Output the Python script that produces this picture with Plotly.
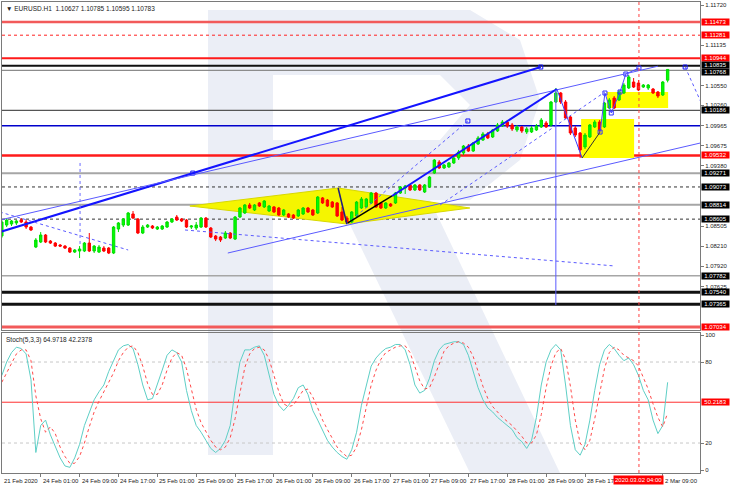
import plotly.graph_objects as go

# ---------------- data (EURUSD H1, 21 Feb 2020 17:00 -> 2 Mar 2020 10:00) ----------------
open_ = [
    1.08359, 1.08519, 1.08534, 1.08549, 1.08592, 1.08563, 1.08490, 1.08199, 1.08272, 1.08374,
    1.08286, 1.08257, 1.08228, 1.08213, 1.08184, 1.08126, 1.08141, 1.08141, 1.08257, 1.08141,
    1.08126, 1.08184, 1.08184, 1.08112, 1.08461, 1.08519, 1.08519, 1.08680, 1.08607, 1.08403,
    1.08490, 1.08505, 1.08461, 1.08461, 1.08490, 1.08563, 1.08636, 1.08607, 1.08592, 1.08490,
    1.08476, 1.08490, 1.08621, 1.08476, 1.08359, 1.08345, 1.08330, 1.08403, 1.08315, 1.08636,
    1.08694, 1.08811, 1.08738, 1.08840, 1.08782, 1.08723, 1.08782, 1.08767, 1.08665, 1.08680,
    1.08665, 1.08651, 1.08680, 1.08767, 1.08738, 1.08694, 1.08913, 1.08883, 1.08854, 1.08840,
    1.08709, 1.08621, 1.08563, 1.08651, 1.08767, 1.08782, 1.08840, 1.08985, 1.08840, 1.08767,
    1.08825, 1.08840, 1.08985, 1.09058, 1.09102, 1.09029, 1.09102, 1.09000, 1.09073, 1.09276,
    1.09436, 1.09349, 1.09364, 1.09422, 1.09495, 1.09567, 1.09669, 1.09596, 1.09698, 1.09756,
    1.09844, 1.09800, 1.09887, 1.09960, 1.10018, 1.09975, 1.09902, 1.09946, 1.09873, 1.09873,
    1.09902, 1.09946, 1.10004, 1.09975, 1.10309, 1.10440, 1.10309, 1.10091, 1.09931, 1.09858,
    1.09655, 1.09800, 1.09946, 1.10018, 1.09946, 1.10222, 1.10367, 1.10338, 1.10440, 1.10513,
    1.10600, 1.10585, 1.10527, 1.10513, 1.10498, 1.10455, 1.10411, 1.10627]
high = [
    1.08607, 1.08621, 1.08592, 1.08592, 1.08621, 1.08592, 1.08505, 1.08330, 1.08417, 1.08388,
    1.08301, 1.08272, 1.08243, 1.08228, 1.08199, 1.08170, 1.08213, 1.08272, 1.08403, 1.08228,
    1.08228, 1.08213, 1.08199, 1.08505, 1.08563, 1.08621, 1.08709, 1.08723, 1.08621, 1.08519,
    1.08534, 1.08519, 1.08505, 1.08519, 1.08578, 1.08621, 1.08665, 1.08621, 1.08607, 1.08519,
    1.08563, 1.08636, 1.08636, 1.08490, 1.08374, 1.08359, 1.08432, 1.08417, 1.08651, 1.08782,
    1.08825, 1.08840, 1.08825, 1.08854, 1.08883, 1.08811, 1.08796, 1.08782, 1.08753, 1.08694,
    1.08680, 1.08753, 1.08782, 1.08782, 1.08753, 1.08942, 1.08927, 1.08898, 1.08869, 1.08854,
    1.08782, 1.08651, 1.08723, 1.08869, 1.08927, 1.08913, 1.09000, 1.09000, 1.08854, 1.08854,
    1.08840, 1.09000, 1.09087, 1.09102, 1.09116, 1.09116, 1.09116, 1.09116, 1.09233, 1.09480,
    1.09465, 1.09407, 1.09436, 1.09509, 1.09611, 1.09684, 1.09698, 1.09727, 1.09815, 1.09873,
    1.09873, 1.09917, 1.10004, 1.10047, 1.10047, 1.10004, 1.09975, 1.09960, 1.09946, 1.09960,
    1.09989, 1.10076, 1.10033, 1.10324, 1.10513, 1.10455, 1.10338, 1.10105, 1.09960, 1.09873,
    1.09858, 1.09989, 1.10047, 1.10047, 1.10309, 1.10367, 1.10396, 1.10484, 1.10585, 1.10702,
    1.10658, 1.10629, 1.10571, 1.10571, 1.10513, 1.10469, 1.10614, 1.10785]
low = [
    1.08330, 1.08490, 1.08505, 1.08519, 1.08549, 1.08461, 1.08432, 1.08184, 1.08257, 1.08257,
    1.08243, 1.08199, 1.08199, 1.08170, 1.08112, 1.08112, 1.08039, 1.08126, 1.08126, 1.08112,
    1.08112, 1.08126, 1.08097, 1.08097, 1.08417, 1.08490, 1.08505, 1.08607, 1.08388, 1.08388,
    1.08476, 1.08461, 1.08447, 1.08447, 1.08476, 1.08549, 1.08578, 1.08563, 1.08476, 1.08461,
    1.08447, 1.08476, 1.08476, 1.08330, 1.08286, 1.08272, 1.08315, 1.08315, 1.08301, 1.08621,
    1.08680, 1.08753, 1.08723, 1.08782, 1.08767, 1.08709, 1.08694, 1.08651, 1.08651, 1.08621,
    1.08607, 1.08636, 1.08665, 1.08694, 1.08651, 1.08680, 1.08825, 1.08782, 1.08767, 1.08636,
    1.08578, 1.08534, 1.08549, 1.08636, 1.08753, 1.08767, 1.08825, 1.08767, 1.08753, 1.08753,
    1.08782, 1.08825, 1.08971, 1.08971, 1.09014, 1.09014, 1.09014, 1.08985, 1.09058, 1.09262,
    1.09335, 1.09335, 1.09349, 1.09407, 1.09465, 1.09538, 1.09582, 1.09582, 1.09684, 1.09742,
    1.09771, 1.09786, 1.09873, 1.09946, 1.09931, 1.09887, 1.09873, 1.09858, 1.09844, 1.09858,
    1.09887, 1.09931, 1.09931, 1.09946, 1.10294, 1.10280, 1.10062, 1.09829, 1.09800, 1.09495,
    1.09625, 1.09786, 1.09931, 1.09873, 1.09931, 1.10207, 1.10207, 1.10324, 1.10425, 1.10498,
    1.10513, 1.10469, 1.10513, 1.10484, 1.10425, 1.10367, 1.10396, 1.10595]
close = [
    1.08563, 1.08592, 1.08578, 1.08578, 1.08563, 1.08490, 1.08447, 1.08301, 1.08374, 1.08272,
    1.08257, 1.08213, 1.08213, 1.08184, 1.08126, 1.08156, 1.08170, 1.08257, 1.08141, 1.08213,
    1.08199, 1.08141, 1.08112, 1.08490, 1.08549, 1.08607, 1.08694, 1.08621, 1.08403, 1.08490,
    1.08519, 1.08476, 1.08490, 1.08505, 1.08563, 1.08607, 1.08592, 1.08578, 1.08490, 1.08505,
    1.08519, 1.08621, 1.08490, 1.08345, 1.08315, 1.08301, 1.08403, 1.08330, 1.08636, 1.08767,
    1.08811, 1.08767, 1.08811, 1.08796, 1.08869, 1.08796, 1.08709, 1.08665, 1.08738, 1.08636,
    1.08621, 1.08738, 1.08767, 1.08709, 1.08665, 1.08927, 1.08840, 1.08796, 1.08782, 1.08651,
    1.08592, 1.08563, 1.08709, 1.08854, 1.08898, 1.08898, 1.08985, 1.08782, 1.08767, 1.08840,
    1.08796, 1.08985, 1.09073, 1.09087, 1.09029, 1.09102, 1.09029, 1.09102, 1.09218, 1.09465,
    1.09349, 1.09393, 1.09422, 1.09495, 1.09582, 1.09669, 1.09596, 1.09713, 1.09786, 1.09844,
    1.09786, 1.09902, 1.09975, 1.10018, 1.09960, 1.09917, 1.09946, 1.09887, 1.09917, 1.09931,
    1.09960, 1.10047, 1.09946, 1.10309, 1.10440, 1.10309, 1.10076, 1.09858, 1.09829, 1.09611,
    1.09829, 1.09975, 1.10018, 1.09902, 1.10294, 1.10338, 1.10222, 1.10455, 1.10556, 1.10673,
    1.10527, 1.10484, 1.10556, 1.10556, 1.10440, 1.10396, 1.10600, 1.10783]

stoch_k = [
    70, 80, 87, 91, 90, 86, 67, 13, 33, 37,
    26, 17, 9, 3, 2, 9, 19, 33, 43, 52,
    58, 63, 73, 81, 89, 92, 93, 90, 78, 63,
    52, 53, 63, 74, 85, 89, 87, 80, 59, 44,
    33, 28, 22, 16, 13, 16, 22, 33, 59, 80,
    89, 89, 91, 92, 85, 70, 56, 48, 44, 48,
    53, 61, 63, 56, 44, 37, 30, 22, 17, 13,
    10, 8, 15, 28, 48, 63, 77, 83, 87, 90,
    91, 93, 93, 89, 78, 63, 57, 59, 68, 81,
    89, 93, 94, 95, 95, 93, 85, 73, 61, 52,
    46, 43, 39, 36, 33, 30, 24, 21, 16, 22,
    39, 63, 80, 89, 93, 89, 63, 33, 15, 11,
    19, 37, 59, 78, 89, 93, 90, 85, 81, 83,
    78, 70, 59, 52, 37, 27, 33, 64.9718]
stoch_d = [
    65, 72, 79, 86, 89, 89, 81, 55, 38, 28,
    32, 27, 17, 10, 5, 5, 10, 20, 32, 43,
    51, 58, 65, 72, 81, 87, 91, 92, 87, 77,
    64, 56, 56, 63, 74, 83, 87, 85, 75, 61,
    45, 35, 28, 22, 17, 15, 17, 24, 38, 57,
    76, 86, 90, 91, 89, 82, 70, 58, 49, 47,
    48, 54, 59, 60, 54, 46, 37, 30, 23, 17,
    13, 10, 11, 17, 30, 46, 63, 74, 82, 87,
    89, 91, 92, 92, 87, 77, 66, 60, 61, 69,
    79, 88, 92, 94, 95, 94, 91, 84, 73, 62,
    53, 47, 43, 39, 36, 33, 29, 25, 20, 20,
    26, 41, 61, 77, 87, 90, 82, 62, 37, 20,
    15, 22, 38, 58, 75, 87, 91, 89, 85, 83,
    81, 77, 69, 60, 49, 39, 32, 42.2378]

x_tick_bars = [0, 8, 16, 24, 32, 40, 48, 56, 64, 72, 80, 88, 96, 104, 112, 120, 136]
x_tick_text = ["21 Feb 2020", "24 Feb 01:00", "24 Feb 09:00", "24 Feb 17:00", "25 Feb 01:00",
               "25 Feb 09:00", "25 Feb 17:00", "26 Feb 01:00", "26 Feb 09:00", "26 Feb 17:00",
               "27 Feb 01:00", "27 Feb 09:00", "27 Feb 17:00", "28 Feb 01:00", "28 Feb 09:00",
               "28 Feb 17:00", "2 Mar 09:00"]
cursor_bar = 131.1
cursor_text = "2020.03.02 04:00"

price_ticks = [1.11720, 1.11135, 1.10550, 1.10260, 1.09965, 1.09675, 1.09380,
               1.08505, 1.08210, 1.07920, 1.07625]

# horizontal levels: price, colour, width, dash, label background (None = no label)
level_price = [1.11473, 1.11281, 1.10944, 1.10835, 1.10768, 1.10186, 1.09965, 1.09532,
               1.09271, 1.09073, 1.08814, 1.08605, 1.07782, 1.07540, 1.07365, 1.07034]
level_color = ['#f25a5a', '#ff2020', '#ff1a1a', '#111111', '#8c8c8c', '#555555', '#0000cc', '#ff1a1a',
               '#a6a6a6', '#333333', '#a6a6a6', '#333333', '#a6a6a6', '#111111', '#111111', '#f25a5a']
level_width = [2.5, 1, 2, 2, 1.2, 1.2, 1.5, 2.5, 2, 1, 2, 1, 1.5, 3, 3, 3]
level_dash = ['solid', 'dot', 'solid', 'solid', 'solid', 'solid', 'solid', 'solid',
              'solid', 'dot', 'solid', 'dot', 'solid', 'solid', 'solid', 'solid']
level_label = ['#ff0000', '#ff0000', '#ff0000', '#000000', '#000000', '#000000', None, '#ff0000',
               '#000000', '#000000', '#000000', '#000000', '#000000', '#000000', '#000000', '#ff0000']
level_label_shift = [0, 0, 0, 1, -2, 0, 0, 0, 0, 0, 0, 0, 0, 0, 0, 0]

stoch_level = 50.2183

# trend objects (bar, price) pairs
trend_lines = [
    # x0, y0, x1, y1, colour, width, dash
    (-0.4, 1.08417, 110.9, 1.10818, '#1414ff', 2, 'solid'),
    (-0.4, 1.08592, 135.0, 1.10830, '#5a5aff', 1, 'solid'),
    (46.5, 1.08112, 143.7, 1.09712, '#5a5aff', 1, 'solid'),
    (37.7, 1.08447, 126.2, 1.07923, '#5a5aff', 1, 'dot'),
    (-0.4, 1.08709, 26.0, 1.08156, '#5a5aff', 1, 'dot'),
    (71.0, 1.08534, 95.9, 1.10033, '#5a5aff', 1, 'dot'),
    (90.2, 1.08811, 124.1, 1.10455, '#5a5aff', 1, 'dot'),
    (69.2, 1.09058, 71.0, 1.08534, '#202080', 1.5, 'solid'),
    (71.2, 1.08549, 80.3, 1.08942, '#000000', 1.5, 'solid'),
    (80.3, 1.08942, 114.2, 1.10498, '#1414ff', 2, 'solid'),
    (114.2, 1.10498, 119.4, 1.09495, '#3a3aff', 1, 'solid'),
    (119.4, 1.09495, 123.1, 1.09872, '#303030', 1, 'solid'),
    (140.6, 1.10818, 144.4, 1.10222, '#5a5aff', 1, 'dot'),
]
zigzag_bar = [123.1, 124.1, 125.4, 127.2, 128.4, 131.1]
zigzag_price = [1.09872, 1.10440, 1.10149, 1.10455, 1.10716, 1.10804]
marker_bar = [39.3, 110.9, 95.9, 140.6]
marker_price = [1.09275, 1.10818, 1.10033, 1.10818]

triangles = [
    [(38.7, 1.08796), (69.2, 1.09058), (71.0, 1.08534)],
    [(69.2, 1.09058), (96.3, 1.08767), (71.0, 1.08534)],
]
rects = [(119.2, 1.10062, 130.1, 1.09495), (124.5, 1.10455, 137.1, 1.10222)]
vlines = [(16.1, 1.09422, 1.08228, '#6a6aff', 'dot'), (114.0, 1.10484, 1.07355, '#5a5aff', 'solid')]

# ---------------- figure ----------------
W, H = 730, 487
ML, MR, MT, MB = 2, 30, 2, 14
PW, PH = W - ML - MR, H - MT - MB
main_dom = [(H - MB - 330) / PH, 1.0]
stoch_dom = [0.0, (H - MB - 333) / PH]
bars = list(range(len(close)))


def px_path(pts):
    s = ''
    for i, (px, py) in enumerate(pts):
        xp = (px - ML) / PW
        yp = (H - MB - py) / PH
        s += ('M' if i == 0 else 'L') + f'{xp:.4f},{yp:.4f} '
    return s + 'Z'


fig = go.Figure()
fig.add_trace(go.Candlestick(
    x=bars, open=open_, high=high, low=low, close=close,
    increasing=dict(line=dict(color='#00dd00', width=1), fillcolor='#00ff00'),
    decreasing=dict(line=dict(color='#ff0000', width=1), fillcolor='#ff0000'),
    whiskerwidth=0, showlegend=False, hoverinfo='skip', xaxis='x', yaxis='y'))

fig.add_trace(go.Scatter(x=zigzag_bar, y=zigzag_price, mode='lines+markers',
                         line=dict(color='#4a4aff', width=1),
                         marker=dict(symbol='square-open', size=4, color='#3030ff'),
                         showlegend=False, hoverinfo='skip', xaxis='x', yaxis='y'))
fig.add_trace(go.Scatter(x=marker_bar, y=marker_price, mode='markers',
                         marker=dict(symbol='square-open', size=4, color='#1414ff'),
                         showlegend=False, hoverinfo='skip', xaxis='x', yaxis='y'))

fig.add_trace(go.Scatter(x=bars, y=stoch_k, mode='lines', line=dict(color='#5ecfc6', width=1),
                         showlegend=False, hoverinfo='skip', xaxis='x2', yaxis='y2'))
fig.add_trace(go.Scatter(x=bars, y=stoch_d, mode='lines', line=dict(color='#ff4a4a', width=1, dash='dot'),
                         showlegend=False, hoverinfo='skip', xaxis='x2', yaxis='y2'))

shapes = []
# watermark (faint logo)
wm = '#ebeef6'
for poly in [
    [(208, 10), (273, 10), (273, 455), (208, 455)],
    [(273, 10), (470, 10), (520, 40), (540, 100), (520, 160), (470, 200), (273, 200), (273, 140),
     (440, 140), (470, 105), (440, 75), (273, 75)],
    [(338, 200), (430, 200), (560, 473), (470, 473)],
]:
    shapes.append(dict(type='path', xref='paper', yref='paper', path=px_path(poly),
                       fillcolor=wm, line=dict(width=0), layer='below'))

for tri in triangles:
    p = 'M' + ' L'.join(f'{a},{b}' for a, b in tri) + ' Z'
    shapes.append(dict(type='path', xref='x', yref='y', path=p, fillcolor='#f5f500',
                       line=dict(color='#d8d800', width=1), layer='below'))
for x0, y0, x1, y1 in rects:
    shapes.append(dict(type='rect', xref='x', yref='y', x0=x0, y0=y0, x1=x1, y1=y1,
                       fillcolor='#ffff00', line=dict(width=0), layer='below'))

for pr, c, w, d in zip(level_price, level_color, level_width, level_dash):
    shapes.append(dict(type='line', xref='paper', yref='y', x0=0, x1=1, y0=pr, y1=pr,
                       line=dict(color=c, width=w, dash=d), layer='below'))

for x0, y0, x1, y1, c, w, d in trend_lines:
    shapes.append(dict(type='line', xref='x', yref='y', x0=x0, y0=y0, x1=x1, y1=y1,
                       line=dict(color=c, width=w, dash=d)))
for xb, ya, yb, c, d in vlines:
    shapes.append(dict(type='line', xref='x', yref='y', x0=xb, x1=xb, y0=ya, y1=yb,
                       line=dict(color=c, width=1, dash=d)))

# stochastic levels
for lv in (80, 20):
    shapes.append(dict(type='line', xref='paper', yref='y2', x0=0, x1=1, y0=lv, y1=lv,
                       line=dict(color='#c8c8c8', width=1, dash='dot'), layer='below'))
shapes.append(dict(type='line', xref='paper', yref='y2', x0=0, x1=1, y0=stoch_level, y1=stoch_level,
                   line=dict(color='#ff3030', width=1), layer='below'))
# cursor line across both panels
shapes.append(dict(type='line', xref='x', yref='paper', x0=cursor_bar, x1=cursor_bar, y0=0, y1=1,
                   line=dict(color='#ff4040', width=1, dash='dot')))

FONT = 'Liberation Sans'
LBL = 6
ann = []
for pr, bg, sh in zip(level_price, level_label, level_label_shift):
    if bg is None:
        continue
    ann.append(dict(xref='paper', yref='y', x=1.0, y=pr, xanchor='left', yanchor='middle',
                    xshift=1, yshift=sh, text=f'{pr:.5f}', showarrow=False, bgcolor=bg, borderpad=0,
                    width=27, align='center', height=6,
                    font=dict(family=FONT, size=LBL, color='white')))
ann.append(dict(xref='paper', yref='y2', x=1.0, y=stoch_level, xanchor='left', yanchor='middle',
                xshift=1, text=f'{stoch_level:.4f}', showarrow=False, bgcolor='#ff0000', borderpad=0,
                width=27, align='center', height=6,
                font=dict(family=FONT, size=LBL, color='white')))
for b, t in zip(x_tick_bars, x_tick_text):
    ann.append(dict(xref='paper', yref='paper', x=(b * 4.86 + 1.8 - ML) / PW, y=0, xanchor='left',
                    yanchor='top', yshift=-3, xshift=0, text=t, showarrow=False,
                    font=dict(family=FONT, size=LBL, color='#222222')))
ann.append(dict(xref='x2', yref='paper', x=cursor_bar, y=0, xanchor='center', yanchor='top', yshift=-2,
                text=cursor_text, showarrow=False, bgcolor='#ff0000', borderpad=1,
                font=dict(family=FONT, size=LBL, color='white')))
ann.append(dict(xref='paper', yref='paper', x=0.003, y=1.0, xanchor='left', yanchor='top', yshift=-1,
                text='▼ EURUSD.H1  1.10627 1.10785 1.10595 1.10783', showarrow=False,
                font=dict(family=FONT, size=6.5, color='#222222')))
ann.append(dict(xref='paper', yref='paper', x=0.003, y=stoch_dom[1], xanchor='left', yanchor='top',
                yshift=-1, text='Stoch(5,3,3) 64.9718 42.2378', showarrow=False,
                font=dict(family=FONT, size=6.5, color='#222222')))

axis_common = dict(showgrid=False, zeroline=False, showline=True, mirror=True,
                   linecolor='#7a7a7a', linewidth=1)
fig.update_layout(
    width=W, height=H, margin=dict(l=ML, r=MR, t=MT, b=MB),
    paper_bgcolor='white', plot_bgcolor='rgba(0,0,0,0)',
    font=dict(family=FONT, size=LBL, color='#222222'),
    showlegend=False, shapes=shapes, annotations=ann,
    xaxis=dict(domain=[0, 1], anchor='y', range=[0.04, 143.66], showticklabels=False,
               rangeslider=dict(visible=False), ticks='', **axis_common),
    yaxis=dict(domain=main_dom, anchor='x', side='right', range=[1.06992, 1.11764],
               tickvals=price_ticks, ticktext=[f'{v:.5f}' for v in price_ticks],
               ticks='outside', ticklen=3, tickcolor='#7a7a7a', tickfont=dict(size=LBL, family=FONT),
               **axis_common),
    xaxis2=dict(domain=[0, 1], anchor='y2', matches='x', tickvals=x_tick_bars, showticklabels=False,
                ticks='outside', ticklen=3, tickcolor='#7a7a7a', **axis_common),
    yaxis2=dict(domain=stoch_dom, anchor='x2', side='right', range=[-2.2, 101.5],
                tickvals=[0, 20, 80, 100], ticks='outside', ticklen=3, tickcolor='#7a7a7a',
                tickfont=dict(size=LBL, family=FONT), **axis_common),
)

fig.write_html('out.html', config={'displayModeBar': False},
               post_script="document.body.style.margin='0';document.body.style.padding='0';")
